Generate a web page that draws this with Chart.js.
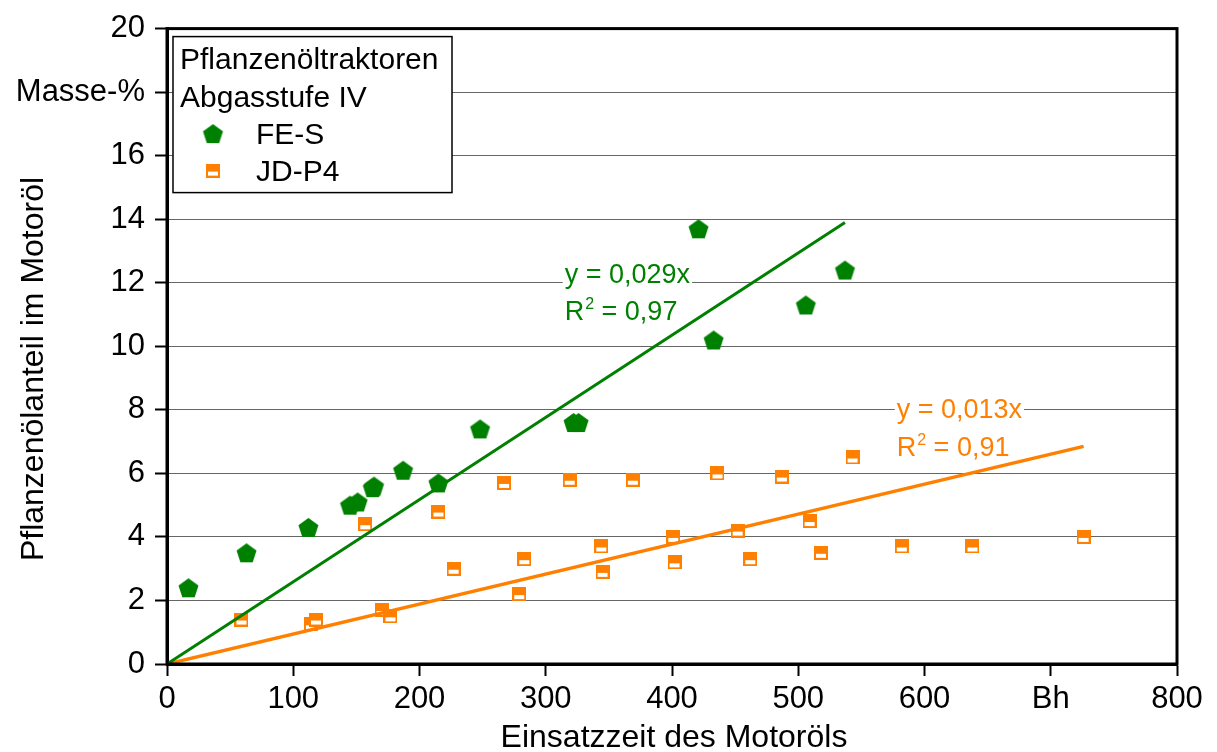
<!DOCTYPE html>
<html>
<head>
<meta charset="utf-8">
<script src="https://cdn.jsdelivr.net/npm/chart.js@4.4.1/dist/chart.umd.min.js"></script>
<style>
  html, body { margin: 0; padding: 0; background: #fff; }
</style>
</head>
<body>
<canvas id="chart" width="1217" height="752"></canvas>
<script>
// FE-S: Einsatzzeit (Bh) / Pflanzenölanteil (Masse-%)
const fesHours = [17, 63, 112, 145, 151, 163, 164, 187, 215, 248, 322, 326, 421, 433, 506, 537];
const fesShare = [2.4, 3.5, 4.3, 5.0, 5.1, 5.55, 5.6, 6.1, 5.7, 7.4, 7.6, 7.6, 13.7, 10.2, 11.3, 12.4];

// JD-P4
const jdHours = [59, 114, 118, 157, 170, 177, 215, 227, 267, 279, 283, 319, 344, 345, 369, 401, 402, 436, 452, 462, 487, 509, 518, 543, 582, 638, 726];
const jdShare = [1.4, 1.25, 1.4, 4.4, 1.7, 1.5, 4.8, 3.0, 5.7, 2.2, 3.3, 5.8, 3.7, 2.9, 5.8, 4.0, 3.2, 6.0, 4.2, 3.3, 5.9, 4.5, 3.5, 6.5, 3.7, 3.7, 4.0];

// Trendlinien (durch den Ursprung)
const fesTrendX = [0, 537];
const fesTrendY = [0, 13.9];
const jdTrendX = [0, 726];
const jdTrendY = [0, 6.85];

const fesEquation = ['y = 0,029x', '0,97'];
const jdEquation = ['y = 0,013x', '0,91'];

const xTicks = [0, 100, 200, 300, 400, 500, 600, 'Bh', 800];
const yTicks = [0, 2, 4, 6, 8, 10, 12, 14, 16, 'Masse-%', 20];

const GREEN = '#008000';
const ORANGE = '#ff8000';
const FONT = "'Liberation Sans', Arial, sans-serif";

const xy = (xs, ys) => xs.map((x, i) => ({ x, y: ys[i] }));

function pentagonMarker(color, r) {
  const s = Math.ceil(r * 2 + 2);
  const c = document.createElement('canvas');
  c.width = c.height = s;
  const g = c.getContext('2d');
  g.fillStyle = color;
  g.beginPath();
  for (let i = 0; i < 5; i++) {
    const a = -Math.PI / 2 + i * 2 * Math.PI / 5;
    const px = s / 2 + r * Math.cos(a), py = s / 2 + 1 + r * Math.sin(a);
    i ? g.lineTo(px, py) : g.moveTo(px, py);
  }
  g.closePath();
  g.fill();
  return c;
}

function halfSquareMarker(color, size) {
  const c = document.createElement('canvas');
  c.width = c.height = size;
  const g = c.getContext('2d');
  g.fillStyle = color;
  g.fillRect(0, 0, size, size);
  g.fillStyle = '#fff';
  g.fillRect(2, 8, size - 4, size - 10);
  return c;
}

const pent = pentagonMarker(GREEN, 10.5);
const half = halfSquareMarker(ORANGE, 14);

// Rahmen, Legende, Achsentitel und Gleichungen
const decorations = {
  id: 'decorations',
  afterDraw(chart) {
    const { ctx, chartArea: a, scales: { x, y } } = chart;
    ctx.save();

    ctx.strokeStyle = '#000';
    ctx.lineWidth = 3;
    ctx.strokeRect(a.left, a.top, a.right - a.left, a.bottom - a.top);

    // y axis title
    ctx.save();
    ctx.translate(34, 369);
    ctx.rotate(-Math.PI / 2);
    ctx.fillStyle = '#000';
    ctx.font = '32px ' + FONT;
    ctx.textAlign = 'center';
    ctx.textBaseline = 'middle';
    ctx.fillText('Pflanzenölanteil im Motoröl', 0, 0);
    ctx.restore();

    // x axis title
    ctx.fillStyle = '#000';
    ctx.font = '32px ' + FONT;
    ctx.textAlign = 'center';
    ctx.textBaseline = 'alphabetic';
    ctx.fillText('Einsatzzeit des Motoröls', 674, 747);

    // legend box
    const lx = a.left + 6, ly = a.top + 8;
    ctx.fillStyle = '#fff';
    ctx.fillRect(lx, ly, 279, 156);
    ctx.lineWidth = 1.5;
    ctx.strokeRect(lx, ly, 279, 156);
    ctx.fillStyle = '#000';
    ctx.font = '30px ' + FONT;
    ctx.textBaseline = 'middle';
    ctx.textAlign = 'left';
    ctx.fillText('Pflanzenöltraktoren', lx + 7, ly + 24);
    ctx.fillText('Abgasstufe IV', lx + 7, ly + 62);
    ctx.drawImage(pent, lx + 40 - pent.width / 2, ly + 97 - pent.height / 2);
    ctx.fillText('FE-S', lx + 83, ly + 99);
    ctx.drawImage(half, lx + 40 - half.width / 2, ly + 134 - half.height / 2);
    ctx.fillText('JD-P4', lx + 83, ly + 136);

    // regression labels
    const drawEq = (eq, color, xv, yv, gap) => {
      const px = x.getPixelForValue(xv), py = y.getPixelForValue(yv);
      ctx.font = '27px ' + FONT;
      ctx.textBaseline = 'alphabetic';
      const w = ctx.measureText(eq[0]).width;
      ctx.fillStyle = '#fff';
      ctx.fillRect(px - 2, py - 22, w + 4, 29);
      ctx.fillStyle = color;
      ctx.fillText(eq[0], px, py);
      const py2 = py + gap;
      ctx.fillText('R', px, py2);
      const rw = ctx.measureText('R').width;
      ctx.font = '16px ' + FONT;
      ctx.fillText('2', px + rw + 1, py2 - 11);
      const sw = ctx.measureText('2').width;
      ctx.font = '27px ' + FONT;
      ctx.fillText(' = ' + eq[1], px + rw + sw + 1, py2);
    };
    drawEq(fesEquation, GREEN, 315, 12.0, 37);
    drawEq(jdEquation, ORANGE, 578, 7.75, 38);

    ctx.restore();
  }
};

new Chart(document.getElementById('chart'), {
  type: 'scatter',
  data: {
    datasets: [
      { label: 'FE-S Trend', data: xy(fesTrendX, fesTrendY), showLine: true, borderColor: GREEN, borderWidth: 3, pointRadius: 0, order: 0 },
      { label: 'JD-P4 Trend', data: xy(jdTrendX, jdTrendY), showLine: true, borderColor: ORANGE, borderWidth: 3.5, pointRadius: 0, order: 0 },
      { label: 'FE-S', data: xy(fesHours, fesShare), pointStyle: pent, order: 1 },
      { label: 'JD-P4', data: xy(jdHours, jdShare), pointStyle: half, order: 1 }
    ]
  },
  options: {
    responsive: false,
    animation: false,
    devicePixelRatio: 1,
    layout: { padding: { top: 28, right: 40, left: 0, bottom: 0 } },
    plugins: { legend: { display: false }, tooltip: { enabled: false } },
    scales: {
      x: {
        type: 'linear', min: 0, max: 800,
        afterFit(s) { s.height = 88; },
        border: { color: '#000', width: 3 },
        grid: { drawOnChartArea: false, tickLength: 12, tickColor: '#000', tickWidth: 2 },
        ticks: {
          stepSize: 100, padding: 5, color: '#000', maxRotation: 0,
          font: { family: FONT, size: 31 },
          callback: (v) => xTicks[v / 100]
        }
      },
      y: {
        type: 'linear', min: 0, max: 20,
        afterFit(s) { s.width = 167; },
        border: { color: '#000', width: 3 },
        grid: {
          color: (c) => (c.tick && (c.tick.value === 0 || c.tick.value === 20)) ? 'rgba(0,0,0,0)' : '#666',
          lineWidth: 1, tickLength: 12, tickColor: '#000', tickWidth: 2
        },
        ticks: {
          stepSize: 2, padding: 10, color: '#000',
          font: { family: FONT, size: 31 },
          callback: (v) => yTicks[v / 2]
        }
      }
    }
  },
  plugins: [decorations]
});
</script>
</body>
</html>
